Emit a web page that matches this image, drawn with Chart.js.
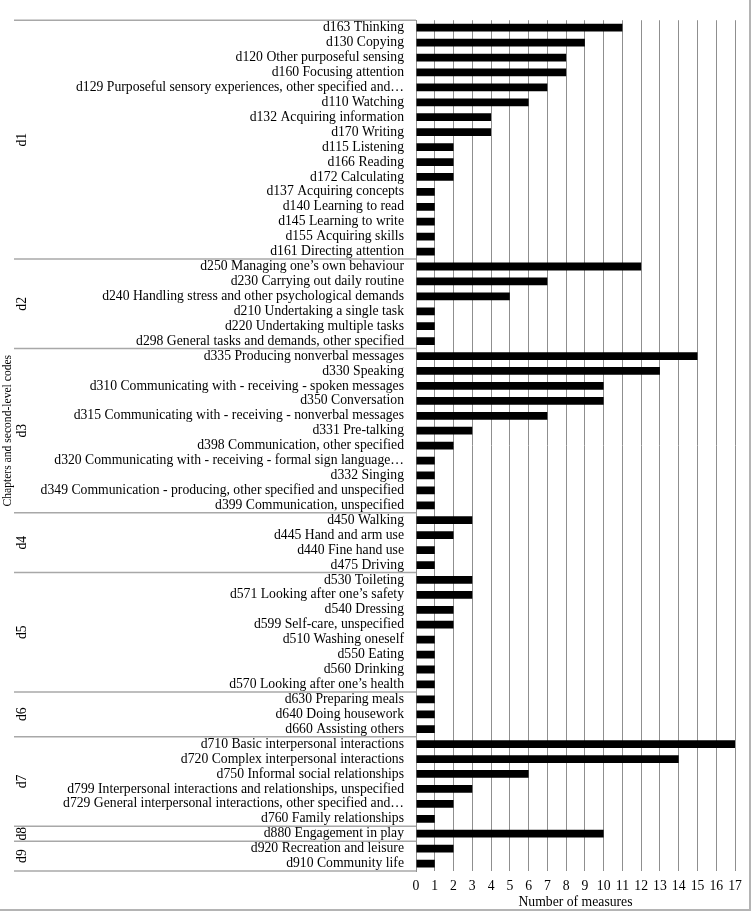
<!DOCTYPE html>
<html>
<head>
<meta charset="utf-8">
<script src="https://cdn.jsdelivr.net/npm/chart.js@4/dist/chart.umd.min.js"></script>
<style>
  html, body { margin: 0; padding: 0; background: #fff; }
  #wrap { position: relative; width: 752px; height: 913px; }
  #frame { position: absolute; left: 0; top: 0; width: 749px; height: 909px;
           border-right: 2px solid #b4b4b4; border-bottom: 2px solid #b4b4b4; pointer-events: none; }
</style>
</head>
<body>
<div id="wrap">
  <canvas id="chart" width="752" height="913"></canvas>
  <div id="frame"></div>
</div>
<script>
// ===== ICF chapters / second-level codes =====

const d1Labels = ["d163 Thinking", "d130 Copying", "d120 Other purposeful sensing", "d160 Focusing attention",
  "d129 Purposeful sensory experiences, other specified and…", "d110 Watching", "d132 Acquiring information",
  "d170 Writing", "d115 Listening", "d166 Reading", "d172 Calculating", "d137 Acquiring concepts",
  "d140 Learning to read", "d145 Learning to write", "d155 Acquiring skills", "d161 Directing attention"];
const d1Values = [11, 9, 8, 8, 7, 6, 4, 4, 2, 2, 2, 1, 1, 1, 1, 1];

const d2Labels = ["d250 Managing one’s own behaviour", "d230 Carrying out daily routine",
  "d240 Handling stress and other psychological demands", "d210 Undertaking a single task",
  "d220 Undertaking multiple tasks", "d298 General tasks and demands, other specified"];
const d2Values = [12, 7, 5, 1, 1, 1];

const d3Labels = ["d335 Producing nonverbal messages", "d330 Speaking",
  "d310 Communicating with - receiving - spoken messages", "d350 Conversation",
  "d315 Communicating with - receiving - nonverbal messages", "d331 Pre-talking",
  "d398 Communication, other specified", "d320 Communicating with - receiving - formal sign language…",
  "d332 Singing", "d349 Communication - producing, other specified and unspecified",
  "d399 Communication, unspecified"];
const d3Values = [15, 13, 10, 10, 7, 3, 2, 1, 1, 1, 1];

const d4Labels = ["d450 Walking", "d445 Hand and arm use", "d440 Fine hand use", "d475 Driving"];
const d4Values = [3, 2, 1, 1];

const d5Labels = ["d530 Toileting", "d571 Looking after one’s safety", "d540 Dressing", "d599 Self-care, unspecified",
  "d510 Washing oneself", "d550 Eating", "d560 Drinking", "d570 Looking after one’s health"];
const d5Values = [3, 3, 2, 2, 1, 1, 1, 1];

const d6Labels = ["d630 Preparing meals", "d640 Doing housework", "d660 Assisting others"];
const d6Values = [1, 1, 1];

const d7Labels = ["d710 Basic interpersonal interactions", "d720 Complex interpersonal interactions",
  "d750 Informal social relationships", "d799 Interpersonal interactions and relationships, unspecified",
  "d729 General interpersonal interactions, other specified and…", "d760 Family relationships"];
const d7Values = [17, 14, 6, 3, 2, 1];

const d8Labels = ["d880 Engagement in play"];
const d8Values = [10];

const d9Labels = ["d920 Recreation and leisure", "d910 Community life"];
const d9Values = [2, 1];

const chapters = ["d1", "d2", "d3", "d4", "d5", "d6", "d7", "d8", "d9"];
const X_MAX = 17;

const groupLabels = [d1Labels, d2Labels, d3Labels, d4Labels, d5Labels, d6Labels, d7Labels, d8Labels, d9Labels];
const groupValues = [d1Values, d2Values, d3Values, d4Values, d5Values, d6Values, d7Values, d8Values, d9Values];

const labels = groupLabels.flat();
const values = groupValues.flat();

const SERIF = "'Liberation Serif', 'Times New Roman', serif";
const PLOT_LEFT = 416;

// chapter separators, chapter names and the y title, positioned from the y scale
const chapterPlugin = {
  id: "chapters",
  afterDraw(chart) {
    const ctx = chart.ctx;
    const y = chart.scales.y;
    const half = (y.getPixelForValue(1) - y.getPixelForValue(0)) / 2;
    let start = 0;
    let d3mid = 0;
    ctx.save();
    ctx.strokeStyle = "#a8a8a8";
    ctx.lineWidth = 1.5;
    groupLabels.forEach((g, i) => {
      const top = y.getPixelForValue(start) - half;
      const bottom = y.getPixelForValue(start + g.length - 1) + half;
      ctx.beginPath();
      ctx.moveTo(14, top);
      ctx.lineTo(PLOT_LEFT, top);
      ctx.stroke();
      if (i === groupLabels.length - 1) {
        ctx.beginPath();
        ctx.moveTo(14, bottom);
        ctx.lineTo(PLOT_LEFT, bottom);
        ctx.stroke();
      }
      if (i === 2) d3mid = (top + bottom) / 2;
      ctx.save();
      ctx.translate(22, (top + bottom) / 2);
      ctx.rotate(-Math.PI / 2);
      ctx.fillStyle = "#000";
      ctx.font = "13.7px " + SERIF;
      ctx.textAlign = "center";
      ctx.textBaseline = "middle";
      ctx.fillText(chapters[i], 0, 0);
      ctx.restore();
      start += g.length;
    });
    // axis title sits over the d3 block in the original
    ctx.save();
    ctx.translate(8, d3mid);
    ctx.rotate(-Math.PI / 2);
    ctx.fillStyle = "#000";
    ctx.font = "11.6px " + SERIF;
    ctx.textAlign = "center";
    ctx.textBaseline = "middle";
    ctx.fillText("Chapters and second-level codes", 0, 0);
    ctx.restore();
    ctx.restore();
  }
};

const chart = new Chart(document.getElementById("chart"), {
  type: "bar",
  data: {
    labels,
    datasets: [{ data: values, backgroundColor: "#000", barPercentage: 0.52, categoryPercentage: 1 }]
  },
  options: {
    indexAxis: "y",
    responsive: false,
    animation: false,
    layout: { padding: { top: 8, right: 17, bottom: 0, left: 0 } },
    plugins: { legend: { display: false }, tooltip: { enabled: false } },
    scales: {
      x: {
        min: 0, max: X_MAX,
        afterFit: (s) => { s.height = 42; },
        grid: { color: "#8f8f8f", lineWidth: 1, drawTicks: false },
        border: { display: false },
        ticks: { color: "#000", padding: 7, stepSize: 1, autoSkip: false, maxRotation: 0, minRotation: 0,
                 font: { family: SERIF, size: 13.7 } },
        title: { display: true, text: "Number of measures", color: "#000", padding: { top: 0, bottom: 2 },
                 font: { family: SERIF, size: 13.7 } }
      },
      y: {
        afterFit: (s) => { s.width = PLOT_LEFT; },
        grid: { display: false, drawTicks: false },
        border: { display: true, color: "#8f8f8f", width: 1 },
        ticks: { color: "#000", padding: 12, autoSkip: false, font: { family: SERIF, size: 13.7 } }
      }
    }
  },
  plugins: [chapterPlugin]
});
</script>
</body>
</html>
